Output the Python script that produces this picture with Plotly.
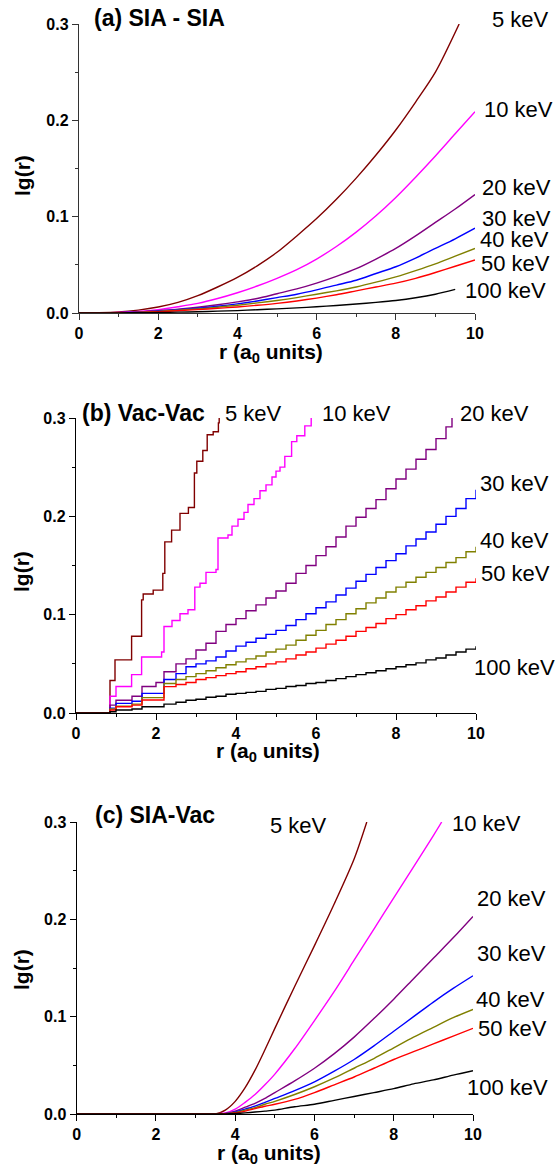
import plotly.graph_objects as go

W, H = 555, 1171
ENERGIES = ["5 keV", "10 keV", "20 keV", "30 keV", "40 keV", "50 keV", "100 keV"]
COLORS = ["#800000", "#FF00FF", "#800080", "#0000FF", "#808000", "#FF0000", "#000000"]

# ---------------- panel (a) SIA - SIA ----------------
A_R = [0, 0.5, 1, 1.5, 2, 2.5, 3, 3.5, 4, 4.5, 5, 5.5, 6, 6.5, 7, 7.5, 8, 8.5, 9, 9.5, 10]
A_R_5 = [0, 0.5, 1, 1.5, 2, 2.5, 3, 3.5, 4, 4.5, 5, 5.5, 6, 6.5, 7, 7.5, 8, 8.5, 9, 9.6]
A_R_100 = [0, 0.5, 1, 1.5, 2, 2.5, 3, 3.5, 4, 4.5, 5, 5.5, 6, 6.5, 7, 7.5, 8, 8.5, 9, 9.5]
A_5 = [0, 0.0002, 0.001, 0.003, 0.0062, 0.011, 0.018, 0.027, 0.037, 0.049, 0.063, 0.080, 0.098, 0.118, 0.140, 0.164, 0.190, 0.219, 0.250, 0.30]
A_10 = [0, 0.0001, 0.0005, 0.0015, 0.0035, 0.0065, 0.010, 0.015, 0.021, 0.028, 0.036, 0.045, 0.056, 0.069, 0.084, 0.101, 0.120, 0.141, 0.163, 0.186, 0.209]
A_20 = [0, 0.0001, 0.0003, 0.001, 0.0025, 0.004, 0.006, 0.0085, 0.0115, 0.015, 0.020, 0.025, 0.031, 0.038, 0.046, 0.056, 0.067, 0.080, 0.094, 0.108, 0.123]
A_30 = [0, 0.0, 0.0002, 0.0008, 0.002, 0.0033, 0.005, 0.007, 0.0095, 0.0125, 0.016, 0.0195, 0.024, 0.029, 0.034, 0.041, 0.048, 0.057, 0.067, 0.077, 0.088]
A_40 = [0, 0.0, 0.0002, 0.0007, 0.0017, 0.003, 0.0043, 0.006, 0.008, 0.0105, 0.013, 0.016, 0.0195, 0.023, 0.027, 0.032, 0.0375, 0.044, 0.051, 0.059, 0.067]
A_50 = [0, 0.0, 0.0001, 0.0005, 0.0014, 0.0024, 0.0035, 0.0048, 0.0063, 0.008, 0.010, 0.0125, 0.0155, 0.019, 0.023, 0.027, 0.031, 0.036, 0.042, 0.0485, 0.055]
A_100 = [0, 0.0, 0.0001, 0.0003, 0.0005, 0.0009, 0.0013, 0.0019, 0.0025, 0.0034, 0.0043, 0.0053, 0.0065, 0.0078, 0.0093, 0.011, 0.013, 0.0158, 0.0195, 0.0245]

# ---------------- panel (b) Vac-Vac (step curves) ----------------
B_R_5 = [0, 0.85, 0.975, 1.39, 1.64, 1.68, 1.93, 2.17, 2.22, 2.39, 2.6, 2.81, 2.96, 3.02, 3.17, 3.28, 3.43, 3.56, 3.58]
B_5 = [0, 0.033, 0.054, 0.078, 0.115, 0.121, 0.125, 0.142, 0.174, 0.186, 0.203, 0.209, 0.244, 0.256, 0.267, 0.283, 0.286, 0.295, 0.300]
B_R_10 = [0, 0.85, 1.0, 1.39, 1.64, 2.14, 2.2, 2.4, 2.6, 2.8, 2.97, 3.1, 3.25, 3.5, 3.55, 3.8, 3.9, 4.05, 4.2, 4.3, 4.45, 4.6, 4.75, 4.9, 5.0, 5.1, 5.22, 5.39, 5.52, 5.72, 5.88]
B_10 = [0, 0.017, 0.027, 0.039, 0.057, 0.062, 0.088, 0.094, 0.101, 0.105, 0.128, 0.132, 0.143, 0.146, 0.178, 0.181, 0.190, 0.197, 0.204, 0.212, 0.218, 0.226, 0.232, 0.240, 0.246, 0.250, 0.261, 0.276, 0.282, 0.292, 0.300]
B_R_20 = [0, 0.85, 1.0, 1.4, 1.65, 2.0, 2.2, 2.5, 2.75, 3.0, 3.25, 3.5, 3.75, 4.0, 4.25, 4.5, 4.75, 5.0, 5.25, 5.5, 5.75, 6.0, 6.25, 6.5, 6.75, 7.0, 7.25, 7.5, 7.75, 8.0, 8.25, 8.5, 8.75, 9.0, 9.25, 9.4]
B_20 = [0, 0.008, 0.013, 0.017, 0.027, 0.031, 0.042, 0.050, 0.055, 0.064, 0.071, 0.083, 0.090, 0.096, 0.104, 0.110, 0.117, 0.124, 0.132, 0.142, 0.150, 0.160, 0.169, 0.179, 0.190, 0.199, 0.208, 0.217, 0.228, 0.238, 0.248, 0.258, 0.268, 0.279, 0.291, 0.300]
B_R = [0, 0.85, 1.0, 1.4, 1.65, 2.2, 2.5, 2.75, 3.0, 3.25, 3.5, 3.75, 4.0, 4.25, 4.5, 4.75, 5.0, 5.25, 5.5, 5.75, 6.0, 6.25, 6.5, 6.75, 7.0, 7.25, 7.5, 7.75, 8.0, 8.25, 8.5, 8.75, 9.0, 9.25, 9.5, 9.75, 10.0]
B_30 = [0, 0.005, 0.0098, 0.012, 0.020, 0.034, 0.040, 0.047, 0.050, 0.053, 0.057, 0.063, 0.068, 0.072, 0.076, 0.080, 0.084, 0.089, 0.095, 0.101, 0.107, 0.113, 0.120, 0.127, 0.134, 0.141, 0.148, 0.155, 0.162, 0.170, 0.177, 0.184, 0.192, 0.200, 0.208, 0.218, 0.227]
B_40 = [0, 0.004, 0.007, 0.009, 0.0156, 0.030, 0.034, 0.037, 0.040, 0.043, 0.046, 0.049, 0.052, 0.055, 0.058, 0.062, 0.065, 0.069, 0.074, 0.079, 0.084, 0.090, 0.095, 0.101, 0.106, 0.112, 0.117, 0.123, 0.128, 0.133, 0.138, 0.143, 0.148, 0.153, 0.158, 0.164, 0.169]
B_50 = [0, 0.003, 0.0064, 0.008, 0.0132, 0.0268, 0.029, 0.031, 0.034, 0.036, 0.038, 0.040, 0.042, 0.045, 0.047, 0.050, 0.052, 0.055, 0.059, 0.062, 0.066, 0.070, 0.074, 0.078, 0.083, 0.087, 0.091, 0.096, 0.100, 0.105, 0.109, 0.114, 0.118, 0.123, 0.128, 0.133, 0.137]
B_100 = [0, 0.0013, 0.003, 0.004, 0.0064, 0.009, 0.011, 0.013, 0.014, 0.016, 0.017, 0.019, 0.020, 0.021, 0.022, 0.024, 0.025, 0.027, 0.028, 0.030, 0.031, 0.033, 0.035, 0.037, 0.039, 0.041, 0.043, 0.045, 0.047, 0.049, 0.051, 0.054, 0.056, 0.059, 0.062, 0.065, 0.068]

# ---------------- panel (c) SIA-Vac ----------------
C_R = [0, 3.0, 3.5, 3.75, 4.0, 4.25, 4.5, 4.75, 5.0, 5.5, 6.0, 6.5, 7.0, 7.5, 8.0, 8.5, 9.0, 9.5, 10.0]
C_R_5 = [0, 3.0, 3.5, 3.75, 4.0, 4.25, 4.5, 4.75, 5.0, 5.5, 6.0, 6.5, 7.0, 7.32]
C_R_10 = [0, 3.0, 3.5, 3.75, 4.0, 4.25, 4.5, 4.75, 5.0, 5.5, 6.0, 6.5, 7.0, 7.5, 8.0, 8.5, 9.0, 9.21]
C_5 = [0, 0, 0, 0.004, 0.013, 0.027, 0.045, 0.066, 0.088, 0.131, 0.173, 0.216, 0.262, 0.300]
C_10 = [0, 0, 0, 0.001, 0.005, 0.012, 0.020, 0.030, 0.041, 0.067, 0.096, 0.126, 0.158, 0.190, 0.222, 0.254, 0.286, 0.300]
C_20 = [0, 0, 0, 0.0005, 0.003, 0.007, 0.011, 0.016, 0.022, 0.034, 0.047, 0.062, 0.079, 0.098, 0.118, 0.139, 0.160, 0.181, 0.203]
C_30 = [0, 0, 0, 0.0003, 0.002, 0.005, 0.008, 0.012, 0.016, 0.024, 0.033, 0.044, 0.056, 0.070, 0.085, 0.100, 0.115, 0.129, 0.142]
C_40 = [0, 0, 0, 0.0002, 0.0015, 0.004, 0.0065, 0.010, 0.013, 0.020, 0.028, 0.037, 0.047, 0.057, 0.068, 0.079, 0.089, 0.099, 0.1075]
C_50 = [0, 0, 0, 0.0001, 0.001, 0.003, 0.0055, 0.008, 0.010, 0.015, 0.022, 0.030, 0.038, 0.047, 0.056, 0.064, 0.072, 0.080, 0.088]
C_100 = [0, 0, 0, 0.0, 0.0005, 0.0012, 0.002, 0.003, 0.004, 0.0075, 0.010, 0.014, 0.018, 0.022, 0.026, 0.031, 0.035, 0.040, 0.0445]

PANEL_A = [(A_R_5, A_5), (A_R, A_10), (A_R, A_20), (A_R, A_30), (A_R, A_40), (A_R, A_50), (A_R_100, A_100)]
PANEL_B = [(B_R_5, B_5), (B_R_10, B_10), (B_R_20, B_20), (B_R, B_30), (B_R, B_40), (B_R, B_50), (B_R, B_100)]
PANEL_C = [(C_R_5, C_5), (C_R_10, C_10), (C_R, C_20), (C_R, C_30), (C_R, C_40), (C_R, C_50), (C_R, C_100)]

TITLES = ["(a) SIA - SIA", "(b) Vac-Vac", "(c) SIA-Vac"]

fig = go.Figure()

def px_x(p):
    return p / W

def px_y(p):
    return 1 - p / H

# panel geometry in pixels: (x0, x1, ytop, ybottom)
GEOM = [(79, 475, 24, 313), (76, 476, 418, 713), (76.7, 473, 822, 1114)]
AXCOL = ["#333333", "#000000", "#000000"]

for k, (panel, shape) in enumerate([(PANEL_A, "spline"), (PANEL_B, "hv"), (PANEL_C, "spline")]):
    sfx = "" if k == 0 else str(k + 1)
    for (xs, ys), name, col in zip(panel, ENERGIES, COLORS):
        line = dict(color=col, width=1.4, shape=shape)
        if shape == "spline":
            line["smoothing"] = 0.8
        fig.add_trace(go.Scatter(x=xs, y=ys, mode="lines", name=name, showlegend=False,
                                 line=line, xaxis="x" + sfx, yaxis="y" + sfx))
    x0, x1, yt, yb = GEOM[k]
    tickfont = dict(family="Liberation Sans", size=16, color="black", weight="bold")
    fig.layout["xaxis" + sfx] = dict(
        domain=[px_x(x0), px_x(x1)], range=[0, 10], anchor="y" + sfx, automargin=False,
        showline=True, linecolor=AXCOL[k], linewidth=1.4, mirror=False,
        ticks="outside", ticklen=6, tickwidth=1.4, tickcolor=AXCOL[k],
        tickvals=[0, 2, 4, 6, 8, 10], showgrid=False, zeroline=False,
        minor=dict(ticks="outside", ticklen=3, tickwidth=1.2, tickcolor=AXCOL[k], dtick=1, showgrid=False),
        tickfont=tickfont, fixedrange=True)
    fig.layout["yaxis" + sfx] = dict(
        domain=[px_y(yb), px_y(yt)], range=[0, 0.3], anchor="x" + sfx, automargin=False,
        showline=True, linecolor=AXCOL[k], linewidth=1.4, mirror=False,
        ticks="outside", ticklen=6, tickwidth=1.4, tickcolor=AXCOL[k],
        tickvals=[0, 0.1, 0.2, 0.3], ticktext=["0.0", "0.1", "0.2", "0.3"],
        showgrid=False, zeroline=False,
        minor=dict(ticks="outside", ticklen=3, tickwidth=1.2, tickcolor=AXCOL[k], dtick=0.05, showgrid=False),
        tickfont=tickfont, fixedrange=True)

ann = []
def add_text(text, x, y, size, bold=False, xanchor="left", angle=0):
    ann.append(dict(text=text, x=px_x(x), y=px_y(y), xref="paper", yref="paper",
                    xanchor=xanchor, yanchor="middle", showarrow=False, textangle=angle,
                    font=dict(family="Liberation Sans", size=size, color="black",
                              weight="bold" if bold else "normal")))

# panel titles
add_text(TITLES[0], 92, 18, 23, bold=True)
add_text(TITLES[1], 80, 413, 23, bold=True)
add_text(TITLES[2], 93, 815, 23, bold=True)

# y-axis titles
for yc in [176, 572, 970]:
    add_text("lg(r)", 22, yc, 21, bold=True, xanchor="center", angle=-90)
# x-axis titles
for xc, yc in [(271, 353), (268, 752), (269, 1154)]:
    add_text("r (a<sub>0</sub> units)", xc, yc, 21, bold=True, xanchor="center")

LABEL_POS = [
    [(490, 20), (482, 110), (480, 187), (480, 218), (478, 240), (479, 263), (463, 290)],
    [(223, 413), (320, 413), (458, 413), (478, 483), (478, 540), (479, 573), (472, 667)],
    [(268, 825), (450, 823), (475, 898), (475, 953), (474, 999), (476, 1028), (465, 1087)],
]
for panel_pos in LABEL_POS:
    for name, (x, y) in zip(ENERGIES, panel_pos):
        add_text(name, x, y, 22)

fig.update_layout(width=W, height=H, margin=dict(l=0, r=0, t=0, b=0, autoexpand=False),
                  paper_bgcolor="white", plot_bgcolor="white", annotations=ann,
                  showlegend=False)

fig.write_html("out.html",
               post_script="document.body.style.margin='0px';document.body.style.overflow='hidden';")
